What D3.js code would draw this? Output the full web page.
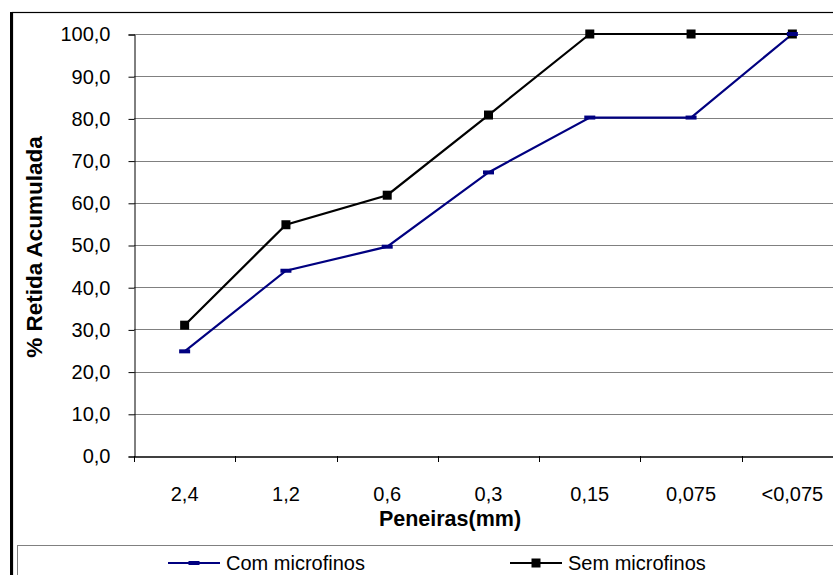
<!DOCTYPE html>
<html>
<head>
<meta charset="utf-8">
<script src="https://cdn.jsdelivr.net/npm/d3@7"></script>
<style>
body{margin:0;background:#ffffff;overflow:hidden;}
</style>
</head>
<body>
<svg id="grafico" width="833" height="575"></svg>
<script>

var peneiras=["2,4","1,2","0,6","0,3","0,15","0,075","<0,075"];
var comMicrofinos=[24.8,43.9,49.6,67.2,80.2,80.2,100.0];
var semMicrofinos=[31.0,54.8,61.8,80.8,100.0,100.0,100.0];
var ticksY=[0,10,20,30,40,50,60,70,80,90,100];

var fuente="'Liberation Sans', Arial, sans-serif";
var tamanioFuente=20;

var plotLeft=134;
var plotRight=843;
var plotTop=34;
var plotBottom=456;

var svg=d3.select("#grafico");

var x=d3.scaleBand().domain(peneiras).range([plotLeft,plotRight]).padding(0);
var y=d3.scaleLinear().domain([0,100]).range([plotBottom,plotTop]);

// marco exterior
svg.append("rect")
    .attr("x",12.5).attr("y",12.5)
    .attr("width",900).attr("height",700)
    .attr("fill","#ffffff")
    .attr("stroke","#000000")
    .attr("stroke-width",1.2);
svg.append("line")
    .attr("x1",11.5).attr("x2",11.5)
    .attr("y1",12).attr("y2",575)
    .attr("stroke","#000000")
    .attr("stroke-width",3);

// lineas de grilla
svg.selectAll(".grid").data(ticksY.filter(function(d){return d>0;})).enter()
    .append("line")
    .attr("class","grid")
    .attr("x1",plotLeft).attr("x2",plotRight)
    .attr("y1",function(d){return Math.round(y(d))+0.5;})
    .attr("y2",function(d){return Math.round(y(d))+0.5;})
    .attr("stroke","#808080")
    .attr("stroke-width",1);

// eje Y
var ejeY=d3.axisLeft(y).tickValues(ticksY).tickSize(6).tickPadding(18)
    .tickFormat(function(d){return d3.format(".1f")(d).replace(".",",");});
var gY=svg.append("g")
    .attr("transform","translate("+(plotLeft+0.5)+",0.5)")
    .call(ejeY);
gY.select(".domain").attr("stroke","#000000");
gY.selectAll(".tick line").attr("stroke","#000000");
gY.selectAll(".tick text")
    .style("font-family",fuente)
    .style("font-size",tamanioFuente+"px")
    .attr("fill","#000000");

// eje X
var ejeX=d3.axisBottom(x).tickSize(0).tickPadding(30);
var gX=svg.append("g")
    .attr("transform","translate(0,"+(plotBottom+0.5)+")")
    .call(ejeX);
gX.select(".domain").attr("stroke","#000000").attr("stroke-width",1.5);
gX.selectAll(".tick text")
    .style("font-family",fuente)
    .style("font-size",tamanioFuente+"px")
    .attr("fill","#000000");

// marcas del eje X en los limites de cada categoria
var limites=d3.range(peneiras.length+1);
svg.selectAll(".tickX").data(limites).enter()
    .append("line")
    .attr("class","tickX")
    .attr("x1",function(i){return Math.round(plotLeft+i*x.step())+0.5;})
    .attr("x2",function(i){return Math.round(plotLeft+i*x.step())+0.5;})
    .attr("y1",plotBottom)
    .attr("y2",plotBottom+6)
    .attr("stroke","#000000");

// titulos de ejes
svg.append("text")
    .attr("x",450)
    .attr("y",526)
    .style("font-family",fuente)
    .style("font-size","21.5px")
    .style("font-weight","bold")
    .style("text-anchor","middle")
    .text("Peneiras(mm)");

svg.append("text")
    .attr("transform","translate(42,247) rotate(-90)")
    .style("font-family",fuente)
    .style("font-size","22.5px")
    .style("font-weight","bold")
    .style("text-anchor","middle")
    .text("% Retida Acumulada");

// series
var linea=d3.line()
    .x(function(d,i){return x(peneiras[i])+x.bandwidth()/2;})
    .y(function(d){return y(d);});

svg.append("path")
    .datum(semMicrofinos)
    .attr("d",linea)
    .attr("fill","none")
    .attr("stroke","#000000")
    .attr("stroke-width",2.2);

svg.append("path")
    .datum(comMicrofinos)
    .attr("d",linea)
    .attr("fill","none")
    .attr("stroke","#000080")
    .attr("stroke-width",2.2);

svg.selectAll(".marcaSem").data(semMicrofinos).enter()
    .append("rect")
    .attr("class","marcaSem")
    .attr("x",function(d,i){return x(peneiras[i])+x.bandwidth()/2-4.5;})
    .attr("y",function(d){return y(d)-4.5;})
    .attr("width",9).attr("height",9)
    .attr("fill","#000000");

svg.selectAll(".marcaCom").data(comMicrofinos).enter()
    .append("rect")
    .attr("class","marcaCom")
    .attr("x",function(d,i){return x(peneiras[i])+x.bandwidth()/2-5.5;})
    .attr("y",function(d){return y(d)-2;})
    .attr("width",11).attr("height",4)
    .attr("fill","#000080");

// leyenda
svg.append("rect")
    .attr("x",17.5).attr("y",545.5)
    .attr("width",900).attr("height",100)
    .attr("fill","#ffffff")
    .attr("stroke","#808080")
    .attr("stroke-width",1);

var leyenda=[
    {nombre:"Com microfinos",color:"#000080",x0:168,tipo:"com"},
    {nombre:"Sem microfinos",color:"#000000",x0:510,tipo:"sem"}
];

leyenda.forEach(function(l){
    svg.append("line")
        .attr("x1",l.x0).attr("x2",l.x0+52)
        .attr("y1",563).attr("y2",563)
        .attr("stroke",l.color)
        .attr("stroke-width",2.2);
    if(l.tipo=="sem"){
        svg.append("rect")
            .attr("x",l.x0+26-4.5).attr("y",563-4.5)
            .attr("width",9).attr("height",9)
            .attr("fill",l.color);
    }else{
        svg.append("rect")
            .attr("x",l.x0+26-5.5).attr("y",563-2)
            .attr("width",11).attr("height",4)
            .attr("fill",l.color);
    }
    svg.append("text")
        .attr("x",l.x0+58)
        .attr("y",570)
        .style("font-family",fuente)
        .style("font-size",tamanioFuente+"px")
        .text(l.nombre);
});

</script>
</body>
</html>
